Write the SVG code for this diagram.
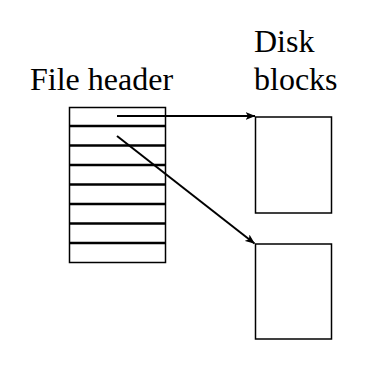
<svg xmlns="http://www.w3.org/2000/svg" width="376" height="384" viewBox="0 0 376 384">
<style>
text{font-family:"Liberation Serif","Times New Roman",serif;font-size:32px;fill:#000}
.box{fill:#fff;stroke:#000;stroke-width:1.5}
.row{stroke:#000;stroke-width:2.5}
.conn{stroke:#000;stroke-width:2;fill:none}
</style>
<defs>
<marker id="arr" viewBox="0 0 10 8" refX="9.5" refY="4" markerWidth="10" markerHeight="8" markerUnits="userSpaceOnUse" orient="auto">
<path d="M0,0 L10,4 L0,8 L2.5,4 z" fill="#000"/>
</marker>
</defs>
<rect width="376" height="384" fill="#fff"/>
<g id="label-file-header"><text x="30" y="90">File header</text></g>
<g id="label-disk-blocks"><text x="254" y="52">Disk</text><text x="254" y="90">blocks</text></g>
<g id="file-header">
<rect class="box" x="69.5" y="107.5" width="96" height="155"/>
<line class="row" x1="69.5" y1="126" x2="165.5" y2="126"/>
<line class="row" x1="69.5" y1="145.5" x2="165.5" y2="145.5"/>
<line class="row" x1="69.5" y1="165" x2="165.5" y2="165"/>
<line class="row" x1="69.5" y1="184.5" x2="165.5" y2="184.5"/>
<line class="row" x1="69.5" y1="204" x2="165.5" y2="204"/>
<line class="row" x1="69.5" y1="223.5" x2="165.5" y2="223.5"/>
<line class="row" x1="69.5" y1="243" x2="165.5" y2="243"/>
</g>
<g id="disk-block-1"><rect class="box" x="255.5" y="117" width="76" height="96"/></g>
<g id="disk-block-2"><rect class="box" x="255.5" y="244" width="76" height="95"/></g>
<g id="connectors">
<line class="conn" x1="117" y1="116" x2="255" y2="116" marker-end="url(#arr)"/>
<line class="conn" x1="117" y1="136" x2="254.5" y2="243.5" marker-end="url(#arr)"/>
</g>
</svg>
